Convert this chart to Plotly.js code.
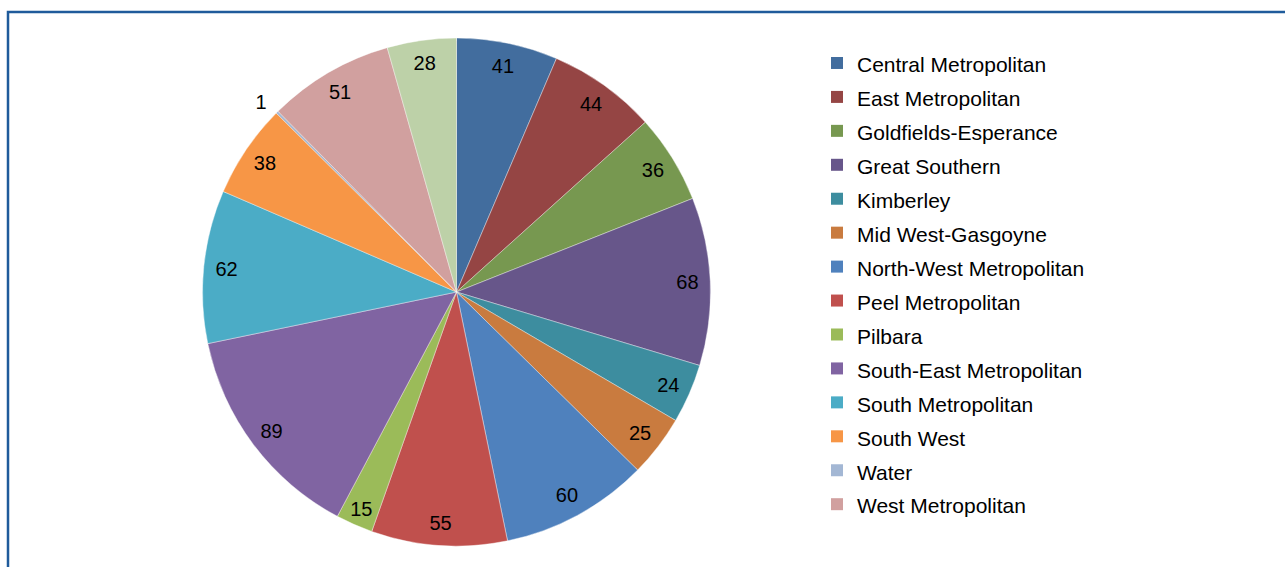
<!DOCTYPE html>
<html>
<head>
<meta charset="utf-8">
<script src="https://cdn.plot.ly/plotly-3.0.1.min.js"></script>
<style>
html,body{margin:0;padding:0;background:#fff;overflow:hidden;}
#chart{width:1285px;height:567px;}
</style>
</head>
<body>
<div id="chart"></div>
<script>
// Data
const regions = [
  "Central Metropolitan", "East Metropolitan", "Goldfields-Esperance", "Great Southern",
  "Kimberley", "Mid West-Gasgoyne", "North-West Metropolitan", "Peel Metropolitan",
  "Pilbara", "South-East Metropolitan", "South Metropolitan", "South West",
  "Water", "West Metropolitan", "Wheatbelt"
];
const counts = [41, 44, 36, 68, 24, 25, 60, 55, 15, 89, 62, 38, 1, 51, 28];
const colors = [
  "#426D9E", "#954544", "#779850", "#67568A", "#3D8D9F", "#C97B3F", "#4F81BD",
  "#C0504D", "#9BBB59", "#8064A2", "#4BACC6", "#F79646", "#A3B7D4", "#D1A09F", "#BDD1A8"
];
// Legend shows only the first 14 entries (last one was cut off in the original)
const legendCount = 14;

// Derived
const legendLabels = regions.slice(0, legendCount).map(r => '<span style="font-size:21px">' + r + '</span>');
const isTiny = counts.map(v => v < 5);
const innerText = counts.map((v, i) => isTiny[i] ? "" : String(v));
const edgeText = counts.map((v, i) => isTiny[i] ? String(v) : "");

const W = 1285, H = 567;
const cx = 456.5, cy = 292, R = 254;
function domainFor(r) {
  return {x: [(cx - r) / W, (cx + r) / W], y: [(H - cy - r) / H, (H - cy + r) / H]};
}
const labelFont = {family: "Liberation Sans, Arial, sans-serif", size: 20, color: "#000"};

const common = {type: "pie", sort: false, direction: "clockwise", rotation: 0, hoverinfo: "skip"};

const legendTrace = Object.assign({}, common, {
  labels: legendLabels,
  values: counts.slice(0, legendCount),
  marker: {colors: colors.slice(0, legendCount), line: {width: 0}},
  textinfo: "none",
  domain: domainFor(R - 3),
  showlegend: true
});

const mainTrace = Object.assign({}, common, {
  labels: regions,
  values: counts,
  marker: {colors: colors, line: {width: 0.6, color: "rgba(255,255,255,0.7)"}},
  textinfo: "none",
  domain: domainFor(R),
  showlegend: false
});

// invisible ring: its inside labels sit near the rim of the main pie
const ringLabels = Object.assign({}, common, {
  labels: regions,
  values: counts,
  hole: 0.82,
  marker: {colors: counts.map(() => "rgba(0,0,0,0)"), line: {width: 0}},
  text: innerText,
  textinfo: "text",
  textposition: "inside",
  insidetextorientation: "horizontal",
  insidetextfont: labelFont,
  textfont: labelFont,
  domain: domainFor(R),
  showlegend: false
});

// invisible slightly larger pie for the label of the tiny slice, outside the rim
const edgeLabels = Object.assign({}, common, {
  labels: regions,
  values: counts,
  marker: {colors: counts.map(() => "rgba(0,0,0,0)"), line: {width: 0}},
  text: edgeText,
  textinfo: "text",
  textposition: "outside",
  outsidetextfont: labelFont,
  textfont: labelFont,
  domain: domainFor(R + 7),
  showlegend: false
});

const layout = {
  width: W, height: H,
  margin: {l: 0, r: 0, t: 0, b: 0},
  paper_bgcolor: "#fff",
  showlegend: true,
  hovermode: false,
  font: {family: "Liberation Sans, Arial, sans-serif", color: "#000"},
  legend: {
    x: 817 / W, xanchor: "left",
    y: (H - 41) / H, yanchor: "top",
    font: {family: "Liberation Sans, Arial, sans-serif", size: 23.8, color: "#000"},
    bgcolor: "rgba(0,0,0,0)",
    borderwidth: 0,
    traceorder: "normal"
  },
  shapes: [{
    type: "rect", xref: "paper", yref: "paper",
    x0: 8 / W, x1: 1.02, y0: -0.05, y1: (H - 12) / H,
    line: {color: "#1F5B9B", width: 2.5},
    fillcolor: "rgba(0,0,0,0)"
  }]
};

Plotly.newPlot("chart", [legendTrace, mainTrace, ringLabels, edgeLabels], layout, {displayModeBar: false, staticPlot: true});
</script>
</body>
</html>
